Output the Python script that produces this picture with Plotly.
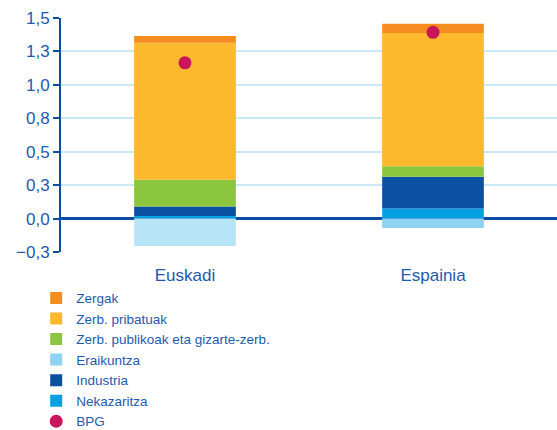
import plotly.graph_objects as go

# ---- data ----
categories = ["Euskadi", "Espainia"]
nekazaritza = [0.02, 0.075]
industria = [0.07, 0.237]
zerb_publikoak = [0.20, 0.08]
zerb_pribatuak = [1.025, 0.996]
zergak = [0.05, 0.069]
eraikuntza = [-0.205, -0.07]
bpg = [1.165, 1.393]

y_ticks = [-0.25, 0, 0.25, 0.5, 0.75, 1.0, 1.25, 1.5]

# ---- styles ----
TXT = "#1F5AAD"
AX = "#0C4EA2"
GRID = "#C9E8F6"
FONT = "Liberation Sans, Arial, sans-serif"
eraikuntza_colors = ["#B8E4F7", "#8ED3F4"]

xpos = list(range(len(categories)))

fig = go.Figure()
W = 0.41

def add_bar(name, vals, color, rank, xs=None):
    fig.add_trace(go.Bar(
        x=xs if xs is not None else xpos, y=vals, name=name, width=W,
        marker=dict(color=color, line=dict(width=0)),
        legendrank=rank,
    ))

add_bar("Nekazaritza", nekazaritza, "#00A0E3", 6)
add_bar("Industria", industria, "#0A50A1", 5)
# Eraikuntza: listed Espainia first so legend swatch takes its colour
add_bar("Eraikuntza", eraikuntza[::-1], eraikuntza_colors[::-1], 4, xs=xpos[::-1])
add_bar("Zerb. publikoak eta gizarte-zerb.", zerb_publikoak, "#8CC63E", 3)
add_bar("Zerb. pribatuak", zerb_pribatuak, "#FDB92E", 2)
add_bar("Zergak", zergak, "#F58C1F", 1)

fig.add_trace(go.Scatter(
    x=xpos, y=bpg, name="BPG", mode="markers",
    marker=dict(color="#C8155B", size=13, symbol="circle"),
    legendrank=7,
))

zero_frac = (0 - y_ticks[0]) / (y_ticks[-1] - y_ticks[0])

fig.update_layout(
    width=557, height=430,
    margin=dict(l=61, r=0, t=18, b=178, autoexpand=False),
    paper_bgcolor="white", plot_bgcolor="white",
    barmode="relative",
    separators=",.",
    font=dict(family=FONT, color=TXT, size=16),
    showlegend=True,
    legend=dict(
        x=-0.050, xanchor="left", y=-0.131, yanchor="top",
        font=dict(family=FONT, color=TXT, size=13.5),
        bgcolor="rgba(0,0,0,0)", itemwidth=30,
        tracegroupgap=0,
    ),
    xaxis=dict(
        range=[-0.5, 1.5], tickvals=xpos, ticktext=categories,
        showgrid=False, zeroline=False, showline=False, ticks="",
        ticklabelstandoff=11, automargin=False,
        tickfont=dict(family=FONT, color=TXT, size=17),
    ),
    xaxis2=dict(
        overlaying="x", anchor="free", position=zero_frac,
        range=[-0.5, 1.5], tickvals=[0.5], ticks="outside",
        ticklen=5, tickwidth=2, tickcolor=AX,
        showticklabels=False, showgrid=False, zeroline=False, showline=False,
    ),
    yaxis=dict(
        range=[y_ticks[0], y_ticks[-1]], tickvals=y_ticks, tickformat=".1f",
        showgrid=True, gridcolor=GRID, gridwidth=1.5,
        zeroline=True, zerolinecolor=AX, zerolinewidth=2.5,
        showline=True, linecolor=AX, linewidth=2, automargin=False,
        ticks="outside", ticklen=6, tickwidth=2, tickcolor=AX,
        tickfont=dict(family=FONT, color=TXT, size=17),
    ),
)

fig.write_html(
    "out.html",
    config={"displayModeBar": False},
    post_script="document.body.style.margin='0';"
                "document.documentElement.style.overflow='hidden';",
)
